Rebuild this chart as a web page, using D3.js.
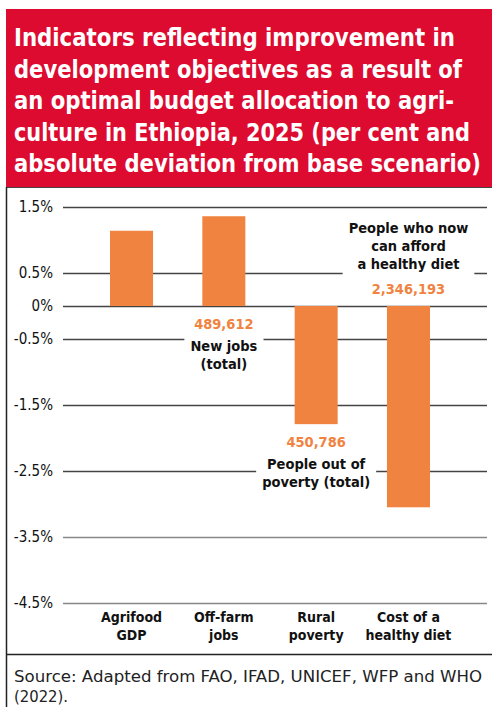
<!DOCTYPE html>
<html>
<head>
<meta charset="utf-8">
<script src="https://cdn.jsdelivr.net/npm/d3@7"></script>
<style>
  body { margin: 0; background: #fff; }
  text { font-family: "DejaVu Sans Condensed", "DejaVu Sans", sans-serif; }
</style>
</head>
<body>
<div id="chart"></div>
<script>
// data
var categories = ["Agrifood GDP", "Off-farm jobs", "Rural poverty", "Cost of a healthy diet"];
var categoryLines = [["Agrifood", "GDP"], ["Off-farm", "jobs"], ["Rural", "poverty"], ["Cost of a", "healthy diet"]];
var values = [1.14, 1.36, -1.79, -3.05];
var tickValues = [1.5, 0.5, 0, -0.5, -1.5, -2.5, -3.5, -4.5];
var annotationNumbers = ["", "489,612", "450,786", "2,346,193"];
var annotationLines = [[], ["New jobs", "(total)"], ["People out of", "poverty (total)"], ["People who now", "can afford", "a healthy diet"]];
var titleLines = [
  "Indicators reflecting improvement in",
  "development objectives as a result of",
  "an optimal budget allocation to agri-",
  "culture in Ethiopia, 2025 (per cent and",
  "absolute deviation from base scenario)"
];
var titleWidths = [441, 448, 440, 456, 467];
var sourceLines = ["Source: Adapted from FAO, IFAD, UNICEF, WFP and WHO", "(2022)."];

var W = 492, H = 707;
var red = "#DC0B2F", orange = "#F0833F";

var svg = d3.select("#chart").append("svg")
  .attr("width", W).attr("height", H);

// title block
svg.append("rect").attr("x", 6).attr("y", 9).attr("width", W - 6).attr("height", 178).attr("fill", red);
svg.selectAll(".title").data(titleLines).enter().append("text")
  .attr("class", "title")
  .attr("x", 14)
  .attr("y", (d, i) => 46 + i * 31.5)
  .attr("fill", "#fff")
  .attr("font-size", "24px")
  .attr("font-weight", "bold")
  .attr("textLength", (d, i) => titleWidths[i])
  .attr("lengthAdjust", "spacingAndGlyphs")
  .text(d => d);

// frame
svg.append("line").attr("x1", 6).attr("x2", W).attr("y1", 187.5).attr("y2", 187.5).attr("stroke", "#444").attr("stroke-width", 1);
svg.append("line").attr("x1", 6.5).attr("x2", 6.5).attr("y1", 187).attr("y2", H).attr("stroke", "#222").attr("stroke-width", 1.5);
svg.append("line").attr("x1", 6).attr("x2", W).attr("y1", 654.5).attr("y2", 654.5).attr("stroke", "#222").attr("stroke-width", 1.5);

// scales
var y = d3.scaleLinear().domain([-4.5, 1.5]).range([603, 207]);
var x = d3.scaleBand().domain(categories).range([110, 430]).paddingInner(0.534).paddingOuter(0);

// grid + tick labels (plain hyphen as minus, like the original)
var yAxis = svg.append("g")
  .attr("transform", "translate(63,0)")
  .call(d3.axisLeft(y).tickValues(tickValues).tickSize(-(487 - 63)).tickPadding(10)
    .tickFormat(d => (d === 0 ? "0" : d3.format(".1f")(d).replace("\u2212", "-")) + "%"));
yAxis.select(".domain").remove();
yAxis.selectAll(".tick line")
  .attr("stroke", d => d <= -3.5 ? "#888" : "#444")
  .attr("stroke-width", 1.5);
yAxis.selectAll(".tick text")
  .attr("font-family", "Roboto, sans-serif")
  .attr("font-size", "15px")
  .attr("fill", "#111");

// bars
svg.selectAll(".bar").data(values).enter().append("rect")
  .attr("class", "bar")
  .attr("x", (d, i) => x(categories[i]))
  .attr("width", x.bandwidth())
  .attr("y", d => y(Math.max(0, d)))
  .attr("height", d => Math.abs(y(d) - y(0)))
  .attr("fill", orange);

// category labels
categoryLines.forEach(function(lines, i) {
  svg.append("text")
    .attr("x", x(categories[i]) + x.bandwidth() / 2)
    .attr("text-anchor", "middle")
    .attr("font-size", "14px")
    .attr("font-weight", "bold")
    .attr("fill", "#111")
    .selectAll("tspan").data(lines).enter().append("tspan")
    .attr("x", x(categories[i]) + x.bandwidth() / 2)
    .attr("y", (d, j) => 622 + j * 18)
    .text(d => d);
});

// annotations
function annotate(i, numY, linesY) {
  var cx = x(categories[i]) + x.bandwidth() / 2;
  var g = svg.append("g");
  var bg = g.append("rect").attr("fill", "#fff");
  g.append("text")
    .attr("x", cx).attr("y", numY)
    .attr("text-anchor", "middle")
    .attr("font-size", "14.5px").attr("font-weight", "bold")
    .attr("fill", orange)
    .text(annotationNumbers[i]);
  g.selectAll(".ann").data(annotationLines[i]).enter().append("text")
    .attr("x", cx).attr("y", (d, j) => linesY + j * 18)
    .attr("text-anchor", "middle")
    .attr("font-size", "14.5px").attr("font-weight", "bold")
    .attr("fill", "#111")
    .text(d => d);
  var b = g.node().getBBox();
  bg.attr("x", b.x - 6).attr("y", b.y - 3).attr("width", b.width + 12).attr("height", b.height + 6);
}
annotate(1, y(0) + 23, y(0) + 45);
annotate(2, y(values[2]) + 23, y(values[2]) + 45);
annotate(3, y(0) - 12, y(0) - 73);

// source
svg.selectAll(".source").data(sourceLines).enter().append("text")
  .attr("class", "source")
  .attr("x", 14)
  .attr("y", (d, i) => 682 + i * 20)
  .attr("font-size", "16.5px")
  .attr("fill", "#222")
  .attr("textLength", (d, i) => i === 0 ? 468 : null)
  .attr("lengthAdjust", "spacingAndGlyphs")
  .text(d => d);
</script>
</body>
</html>
